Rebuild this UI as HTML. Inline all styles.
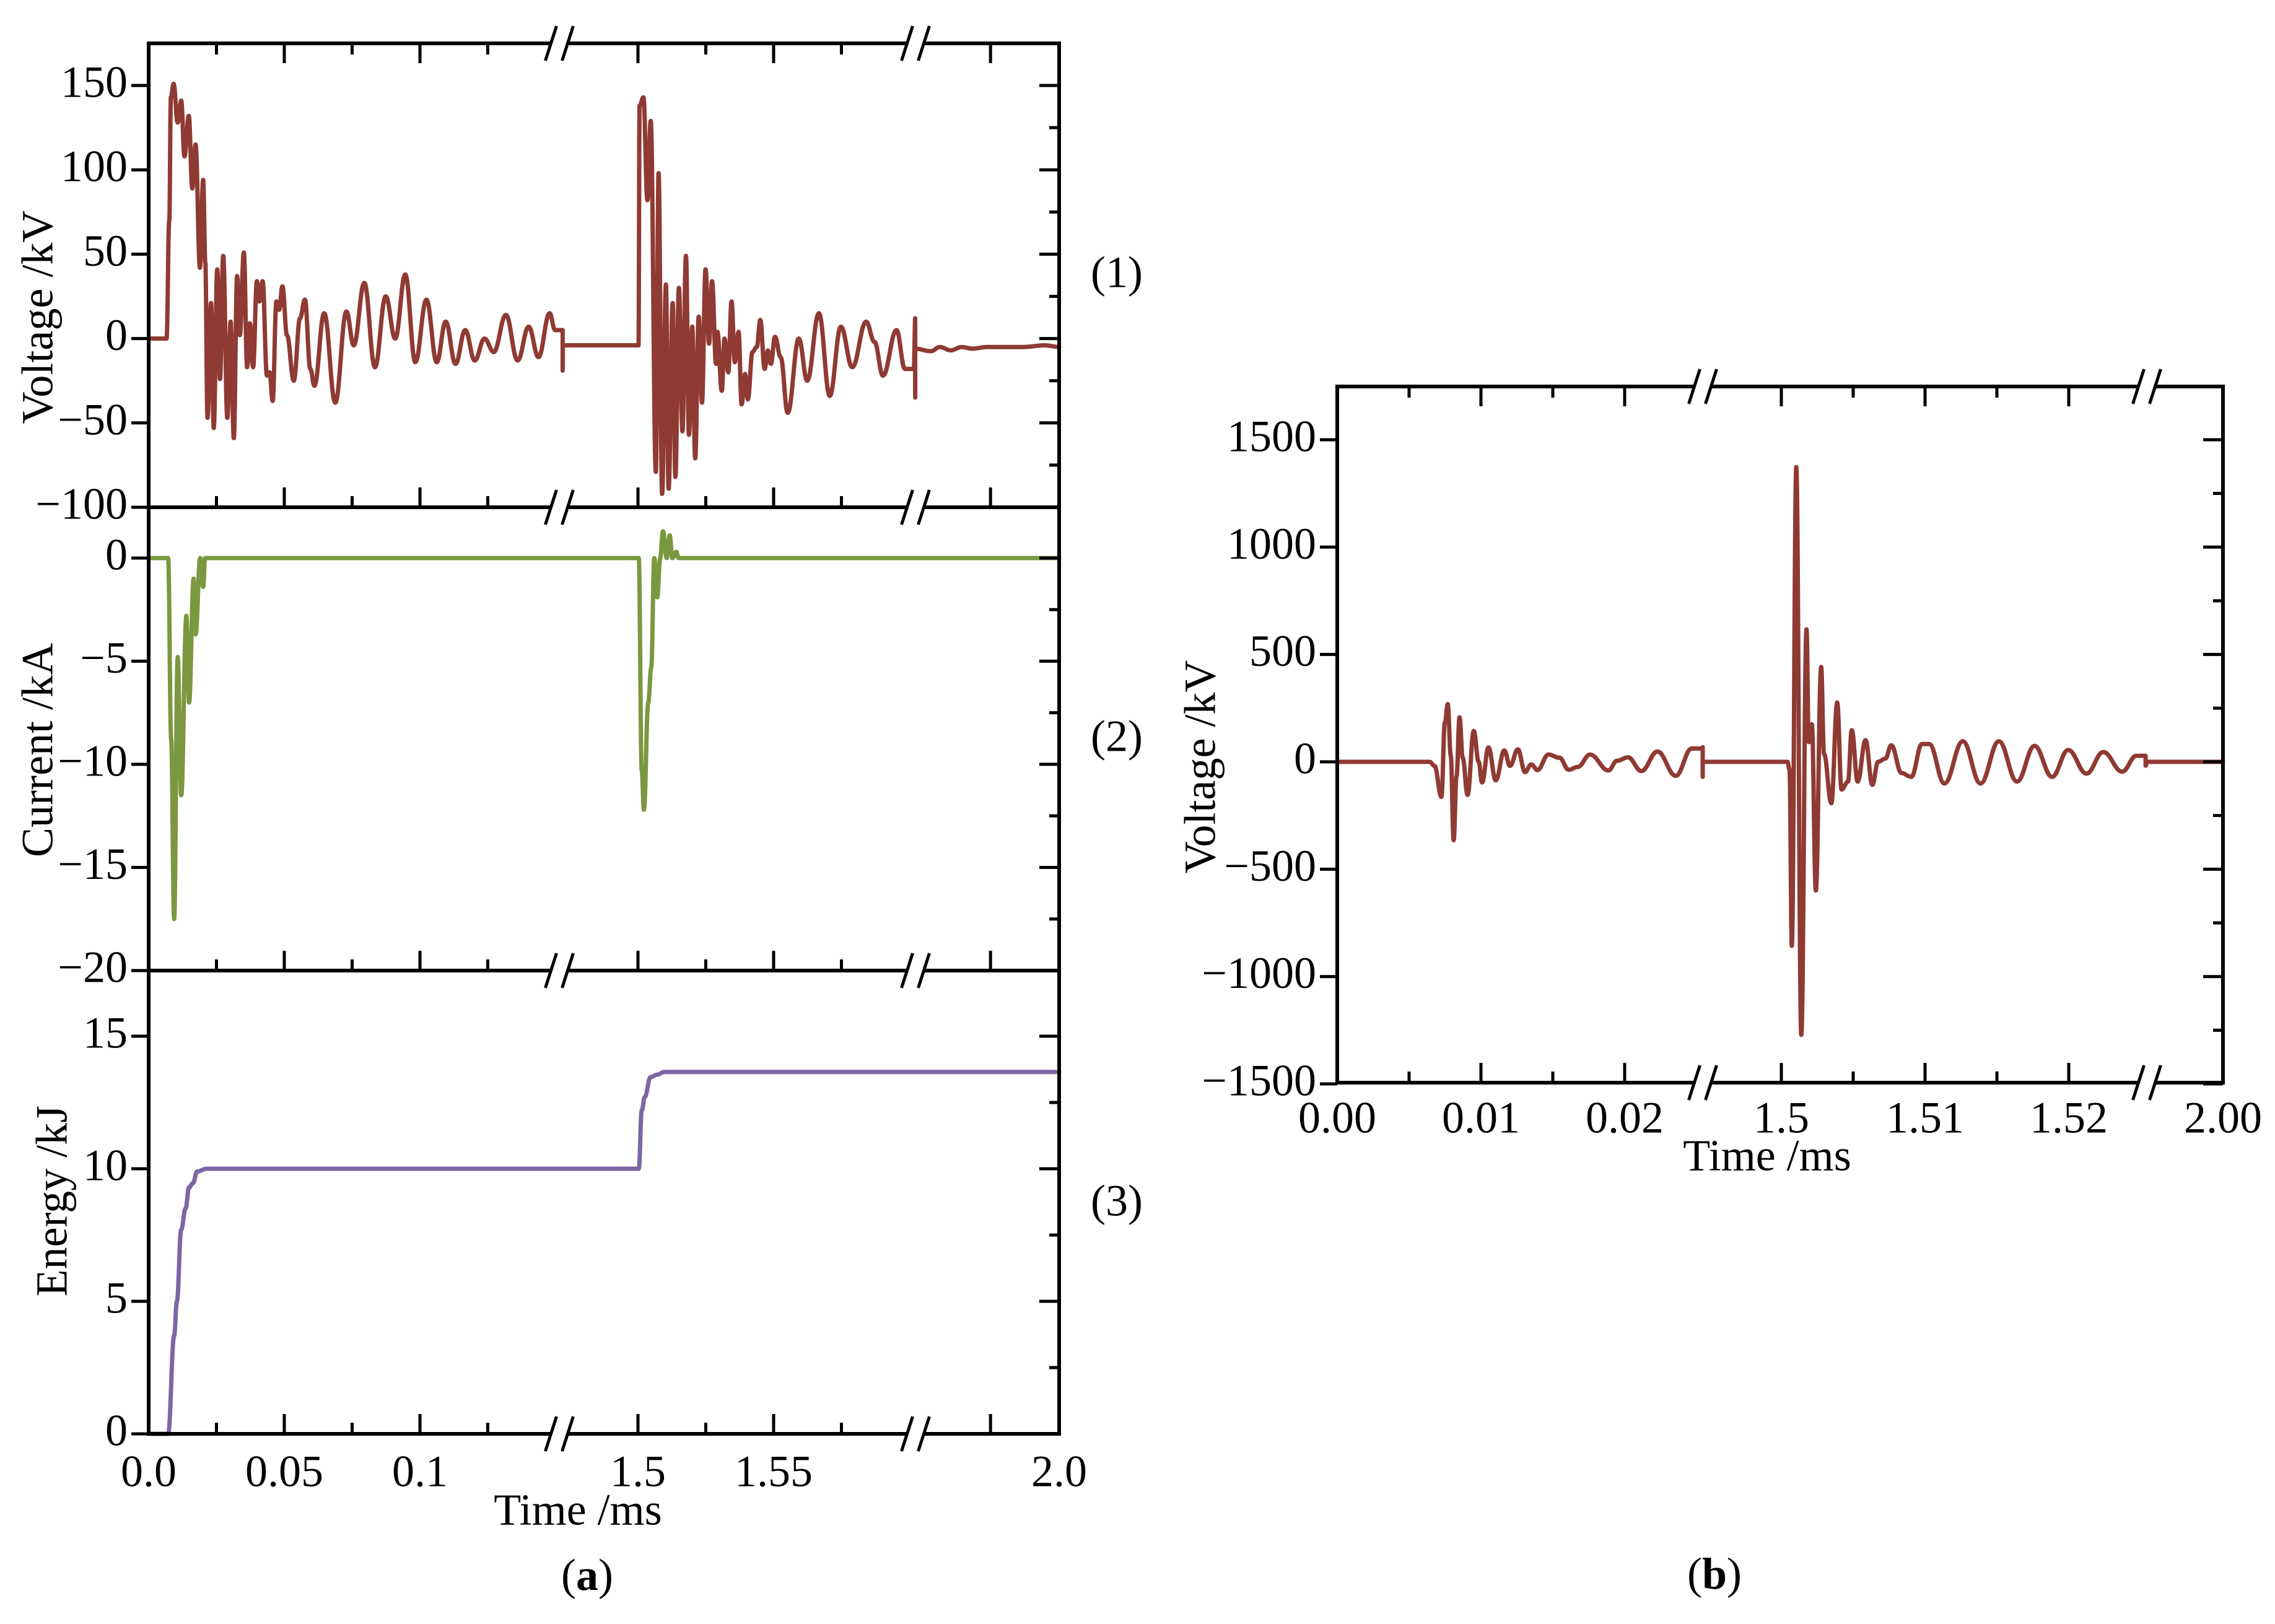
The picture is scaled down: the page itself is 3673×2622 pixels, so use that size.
<!DOCTYPE html>
<html><head><meta charset="utf-8"><style>
html,body{margin:0;padding:0;background:#fff;}
svg{display:block;font-family:"Liberation Serif",serif;}
</style></head><body>
<svg id="fig" width="3673" height="2622" viewBox="0 0 3673 2622" xmlns="http://www.w3.org/2000/svg">
<rect x="0" y="0" width="3673" height="2622" fill="#fff"/>
<g id="pa"></g>
<g id="pb"></g>
<text x="68" y="512" font-size="72" text-anchor="middle" dominant-baseline="middle" transform="rotate(-90 68 512)">Voltage /kV</text>
<text x="68" y="1211" font-size="72" text-anchor="middle" dominant-baseline="middle" transform="rotate(-90 68 1211)">Current /kA</text>
<text x="91" y="1939" font-size="72" text-anchor="middle" dominant-baseline="middle" transform="rotate(-90 91 1939)">Energy /kJ</text>
<text x="1803" y="447" font-size="72" text-anchor="middle" dominant-baseline="middle">(1)</text>
<text x="1803" y="1196" font-size="72" text-anchor="middle" dominant-baseline="middle">(2)</text>
<text x="1803" y="1946" font-size="72" text-anchor="middle" dominant-baseline="middle">(3)</text>
<text x="933" y="2445" font-size="72" text-anchor="middle" dominant-baseline="middle">Time /ms</text>
<text x="948" y="2550" font-size="72" text-anchor="middle" dominant-baseline="middle">(<tspan font-weight="bold">a</tspan>)</text>
<text x="1945" y="1238" font-size="72" text-anchor="middle" dominant-baseline="middle" transform="rotate(-90 1945 1238)">Voltage /kV</text>
<text x="2853" y="1873" font-size="72" text-anchor="middle" dominant-baseline="middle">Time /ms</text>
<text x="2768" y="2548" font-size="72" text-anchor="middle" dominant-baseline="middle">(<tspan font-weight="bold">b</tspan>)</text>
</svg>
<script>
// ---- panel (a)(1) voltage ----
const voltA_t = [0,.0066,.0076,.0082,.0092,.0107,.012,.0132,.0148,.0161,.0173,.0189,.0201,.0209,.0217,.0230,.0240,.0253,.0263,.0275,.0290,.0302,.0314,.0326,.0336,.0351,.0363,.0373,.0385,.0399,.0408,.0420,.0436,.0446,.0457,.0471,.0481,.0493,.0510,.0535,.0558,.0576,.0596,.0611,.0647,.0688,.0729,.0756,.0795,.0834,.0874,.0909,.0946,.0983,.1024,.1062,.1095,.1131,.1167,.1202,.1238,.1272,.1317,.1360,.1401,.1437,.1478,.1498,.1526,.1526,.1527,
1.4724,1.5002,1.5006,1.5020,1.5035,1.5047,1.5066,1.5076,1.5089,1.5103,1.5113,1.5128,1.5138,1.5151,1.5164,1.5177,1.5188,1.5200,1.5211,1.5224,1.5236,1.5249,1.5262,1.5273,1.5288,1.5293,1.5309,1.5319,1.5333,1.5345,1.5357,1.5371,1.5382,1.5395,1.5405,1.5422,1.5438,1.5451,1.5467,1.5479,1.5490,1.5505,1.5526,1.5552,1.5593,1.5624,1.5667,1.5707,1.5748,1.5790,1.5841,1.5872,1.5903,1.5953,1.5984,1.6017,1.6022,1.6022,1.6022,
1.645,1.67,1.70,1.73,1.76,1.80,1.90,1.96,2.0];
const voltA_v = [0,0,70,143,151,128,141,108,132,89,115,42,94,45,-47,21,-53,41,-24,49,-47,10,-59,37,2,51,-17,9,-17,34,22,34,-22,-20,-37,22,17,31,2,-25,12,23,-18,-28,15,-38,16,-4,33,-17,25,0,38,-14,23,-14,10,-15,5,-13,0,-8,14,-13,7,-11,15,5,5,-19,-4,
-4,-4,138,143,82,129,-79,98,-92,32,-89,21,-82,30,-55,49,-57,7,-71,13,-38,41,-3,34,-15,4,-31,0,-20,22,-14,4,-39,-21,-36,-8,-5,11,-18,-7,-15,1,-11,-44,0,-25,15,-34,7,-17,10,-2,-22,5,-18,-18,12,-35,-6,
-7.5,-5,-7,-5,-6,-5,-5,-4,-5];
// ---- panel (a)(2) current ----
const currA_t = [0,.0072,.0083,.0094,.0107,.0120,.0139,.0149,.0166,.0173,.0190,.0201,.0208,1.5003,1.5014,1.5022,1.5038,1.5049,1.5060,1.5071,1.5082,1.5092,1.5106,1.5117,1.5127,1.5141,1.5150,2.0];
const currA_v = [0,0,-8.8,-17.5,-4.8,-11.5,-2.8,-7,-1,-3.7,0,-1.4,0,0,-10.3,-12.2,-7,-5.3,0,-1.9,0,1.3,0,1.1,0,0.3,0,0];
// ---- panel (a)(3) energy ----
const energyA_t = [0,.0072,.0094,.0104,.0120,.0136,.0149,.0163,.0179,.0214,1.5003,1.5014,1.5025,1.5046,1.5070,1.5097,2.0];
const energyA_v = [0,0,3.7,5.0,7.7,8.5,9.3,9.45,9.9,10.0,10.0,12.2,12.7,13.45,13.55,13.65,13.65];
// ---- panel (b) voltage ----
const voltB_t = [0,.00643,.00677,.00725,.00749,.00769,.00790,.00810,.00830,.00851,.00873,.00907,.00950,.00984,.01008,.01052,.01103,.01163,.01202,.01257,.01307,.01350,.01393,.01470,.01546,.01611,.01674,.01759,.01887,.01947,.02023,.02117,.02228,.02356,.02467,.02538,.02543,.02543,.02543,
1.4993,1.50043,1.50057,1.50073,1.50104,1.50139,1.50175,1.50191,1.50212,1.50240,1.50277,1.50297,1.50348,1.50389,1.50419,1.50464,1.50490,1.50531,1.50586,1.50633,1.50673,1.50724,1.50765,1.50836,1.50904,1.50979,1.51029,1.51135,1.51263,1.51386,1.51514,1.51640,1.51762,1.51884,1.51996,1.52124,1.52240,1.52372,1.52470,1.52535,1.52535,1.52545,2.0];
const voltB_v = [0,0,-19,-163,183,269,29,-365,-67,207,19,-154,144,0,-96,67,-86,53,-19,58,-48,-12,-38,34,19,-37,-24,34,-40,5,21,-43,48,-65,62,62,68,-70,0,
0,0,-37,-857,1372,-1271,617,92,175,-599,442,37,-193,276,-129,-92,147,-92,101,-107,0,15,77,-52,-70,83,83,-101,96,-101,96,-92,74,-70,55,-55,46,-46,28,28,-18,0,0];
// tick arrays
const aMajorTicks = [0,0.05,0.1,1.5,1.55,1.81,2.0];
const aMajorLabels = ["0.0","0.05","0.1","1.5","1.55","","2.0"];
const aMinorTicks = [0.025,0.075,0.125,1.525,1.575];
const bMajorTicks = [0,0.01,0.02,1.5,1.51,1.52,2.0];
const bMajorLabels = ["0.00","0.01","0.02","1.5","1.51","1.52","2.00"];
const bMinorTicks = [0.005,0.015,1.505,1.515];
const y1Ticks = [-100,-50,0,50,100,150];
const y1Labels = ["\u2212100","\u221250","0","50","100","150"];
const y1Minor = [-75,-25,25,75,125];
const y2Ticks = [-20,-15,-10,-5,0];
const y2Labels = ["\u221220","\u221215","\u221210","\u22125","0"];
const y2Minor = [-17.5,-12.5,-7.5,-2.5];
const y3Ticks = [0,5,10,15];
const y3Labels = ["0","5","10","15"];
const y3Minor = [2.5,7.5,12.5];
const ybTicks = [-1500,-1000,-500,0,500,1000,1500];
const ybLabels = ["\u22121500","\u22121000","\u2212500","0","500","1000","1500"];
const ybMinor = [-1250,-750,-250,250,750,1250];

const NS="http://www.w3.org/2000/svg";
function xa(t){ if(t<=0.1527) return 240+4380*t; if(t<=1.6022) return 1030+4380*(t-1.5); return 1478+(t-1.6022)/0.3978*232; }
function xb(t){ if(t<=0.02543) return 2159+23200*t; if(t<=1.52545) return 2876+23200*(t-1.5); return 3466+(t-1.52545)/0.47455*123; }
function ya1(v){ return 819-(v+100)*2.724; }
function ya2(v){ return 901-v*33.3; }
function ya3(v){ return 2315-v*42.8; }
function yb(v){ return 1230-v*0.3467; }
const pa=document.getElementById('pa'), pb=document.getElementById('pb');
function mk(tag,parent,attrs){ const e=document.createElementNS(NS,tag); for(const k in attrs) e.setAttribute(k,attrs[k]); parent.appendChild(e); return e; }
function series(parent,ts,vs,fx,fy,color,name){
  let d='M'+fx(ts[0]).toFixed(1)+' '+fy(vs[0]).toFixed(1);
  for(let i=1;i<ts.length;i++){
    const x0=fx(ts[i-1]),y0=fy(vs[i-1]),x1=fx(ts[i]),y1=fy(vs[i]);
    const dx=(x1-x0)*0.4;
    d+='C'+(x0+dx).toFixed(1)+' '+y0.toFixed(1)+' '+(x1-dx).toFixed(1)+' '+y1.toFixed(1)+' '+x1.toFixed(1)+' '+y1.toFixed(1);
  }
  const p=mk('path',parent,{d:d,fill:'none',stroke:color,'stroke-width':7,'stroke-linejoin':'round','stroke-linecap':'round'});
  
  
}
function line(parent,x1,y1,x2,y2,w,name){
  const l=mk('line',parent,{x1:x1,y1:y1,x2:x2,y2:y2,stroke:'#000','stroke-width':w});
  
  
}
function label(parent,x,y,s,anchor,name){
  const t=mk('text',parent,{x:x,y:y,'font-size':72,'text-anchor':anchor,'dominant-baseline':'middle'});
  t.textContent=s;
  
  
}
function yaxis(parent,L,R,fy,maj,labs,minr,name){
  for(let i=0;i<maj.length;i++){ const y=fy(maj[i]);
    line(parent,L-28,y,L,y,5,name+'-tick-left');
    line(parent,R-32,y,R,y,5,name+'-tick-right');
    label(parent,L-34,y+2,labs[i],'end',name+'-tick-label'); }
  for(const v of minr){ const y=fy(v); line(parent,R-16,y,R,y,5,name+'-minor-tick'); }
}
function xticks(parent,fx,maj,minr,y,dir,name){
  for(const t of maj){ const x=fx(t); line(parent,x,y,x,y+dir*32,5,name+'-tick'); }
  for(const t of minr){ const x=fx(t); line(parent,x,y,x,y+dir*18,5,name+'-minor-tick'); }
}
function brk(parent,cx,y,name){
  const w=mk('rect',parent,{x:cx-14,y:y-5,width:28,height:10,fill:'#fff'});
  
  
  line(parent,cx-13.5-9,y+28,cx-13.5+9,y-28,5,name+'-slash');
  line(parent,cx+13.5-9,y+28,cx+13.5+9,y-28,5,name+'-slash');
}
// panel a series
series(pa,voltA_t,voltA_v,xa,ya1,'#8f3a33','voltage-series-a');
series(pa,currA_t,currA_v,xa,ya2,'#7a983f','current-series');
series(pa,energyA_t,energyA_v,xa,ya3,'#7c66a4','energy-series');
// panel a frame
line(pa,240,67,240,2318,6,'y-axis-line-a');
line(pa,1710,67,1710,2318,6,'right-axis-line-a');
[70,819,1567,2315].forEach(y=>line(pa,237,y,1713,y,6,'x-axis-line-a'));
yaxis(pa,240,1710,ya1,y1Ticks,y1Labels,y1Minor,'voltage-y-axis');
yaxis(pa,240,1710,ya2,y2Ticks,y2Labels,y2Minor,'current-y-axis');
yaxis(pa,240,1710,ya3,y3Ticks,y3Labels,y3Minor,'energy-y-axis');
xticks(pa,xa,aMajorTicks,aMinorTicks,70,1,'top-x-axis');
xticks(pa,xa,aMajorTicks,aMinorTicks,819,-1,'voltage-x-axis');
xticks(pa,xa,aMajorTicks,aMinorTicks,1567,-1,'current-x-axis');
xticks(pa,xa,aMajorTicks,aMinorTicks,2315,-1,'energy-x-axis');
for(let i=0;i<aMajorTicks.length;i++){ if(aMajorLabels[i]) label(pa,xa(aMajorTicks[i]),2383,aMajorLabels[i],'middle','x-tick-label-a'); }
[70,819,1567,2315].forEach(y=>{ brk(pa,903,y,'axis-break-a1'); brk(pa,1478,y,'axis-break-a2'); });
// panel b
series(pb,voltB_t,voltB_v,xb,yb,'#8f3a33','voltage-series-b');
line(pb,2159,621,2159,1751,6,'y-axis-line-b');
line(pb,3589,621,3589,1751,6,'right-axis-line-b');
line(pb,2156,624,3592,624,6,'top-axis-line-b');
line(pb,2156,1748,3592,1748,6,'x-axis-line-b');
yaxis(pb,2159,3589,yb,ybTicks,ybLabels,ybMinor,'voltage-y-axis-b');
xticks(pb,xb,bMajorTicks,bMinorTicks,624,1,'top-x-axis-b');
xticks(pb,xb,bMajorTicks,bMinorTicks,1748,-1,'x-axis-b');
for(let i=0;i<bMajorTicks.length;i++){ label(pb,xb(bMajorTicks[i]),1812,bMajorLabels[i],'middle','x-tick-label-b'); }
[624,1748].forEach(y=>{ brk(pb,2749,y,'axis-break-b1'); brk(pb,3466,y,'axis-break-b2'); });
</script>
</body></html>
